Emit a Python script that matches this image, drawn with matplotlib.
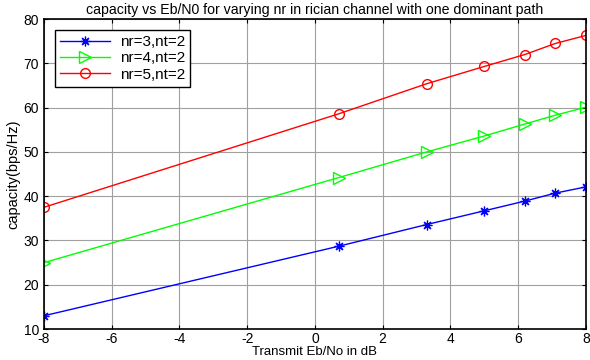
import matplotlib
matplotlib.use("Agg")
import matplotlib.pyplot as plt

plt.rcParams['font.family'] = ['Liberation Sans', 'DejaVu Sans']
plt.rcParams['axes.unicode_minus'] = False

x = [-8, 0.7, 3.3, 5, 6.2, 7.1, 8]
nr3 = [13.0, 28.7, 33.6, 36.7, 38.9, 40.7, 42.1]
nr4 = [25.0, 44.2, 50.0, 53.6, 56.3, 58.3, 60.1]
nr5 = [37.5, 58.6, 65.4, 69.3, 72.0, 74.5, 76.3]
xticks = list(range(-8, 9, 2))
yticks = list(range(10, 81, 10))

fig = plt.figure(figsize=(5.9, 3.6), dpi=100)
ax = fig.add_axes([0.0746, 0.086, 0.9184, 0.861])

ax.plot(x, nr3, color='blue', marker=(8, 2, 0), ms=7, mew=0.9, lw=1, label='nr=3,nt=2')
ax.plot(x, nr4, color='#00ff00', marker='>', ms=8, mfc='none', lw=1, label='nr=4,nt=2')
ax.plot(x, nr5, color='red', marker='o', ms=7, mfc='none', lw=1, label='nr=5,nt=2')

ax.set_xlim(-8, 8)
ax.set_ylim(10, 80)
ax.set_xticks(xticks)
ax.set_yticks(yticks)
ax.grid(True, color='#a0a0a0', lw=0.8)
ax.tick_params(direction='in', top=True, right=True, labelsize=10, length=3)
ax.tick_params(axis='x', pad=2)
for s in ax.spines.values():
    s.set_linewidth(1.2)

ax.set_title('capacity vs Eb/N0 for varying nr in rician channel with one dominant path', fontsize=10.2, pad=4)
ax.set_xlabel('Transmit Eb/No in dB', fontsize=9.5, labelpad=0)
ax.set_ylabel('capacity(bps/Hz)', fontsize=10.5, labelpad=2)

leg = ax.legend(loc='upper left', fontsize=11, fancybox=False, framealpha=1,
                edgecolor='black', handlelength=3.3, borderaxespad=0.7,
                labelspacing=0.15, borderpad=0.35, handletextpad=0.6)
leg.get_frame().set_linewidth(1)

fig.savefig('out.png', dpi=100)
